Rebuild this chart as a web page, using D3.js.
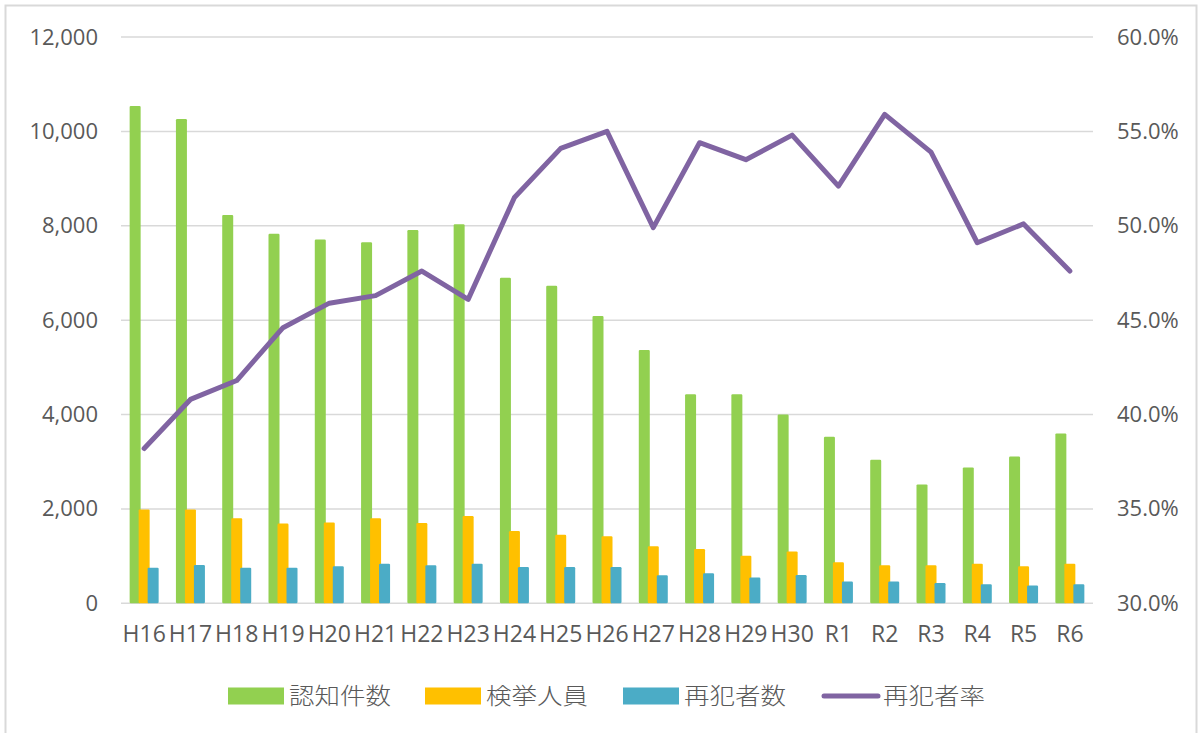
<!DOCTYPE html>
<html><head><meta charset="utf-8">
<script src="https://cdn.jsdelivr.net/npm/d3@7"></script>
<style>
html,body{margin:0;padding:0;background:#fff;}
svg{display:block;}
</style></head>
<body>
<svg id="chart" width="1203" height="733"></svg>
<script>
const categories = ["H16","H17","H18","H19","H20","H21","H22","H23","H24","H25","H26","H27","H28","H29","H30","R1","R2","R3","R4","R5","R6"];
const ninchi = [10540,10260,8230,7830,7710,7650,7910,8030,6900,6730,6090,5370,4430,4430,4000,3530,3040,2520,2880,3110,3600];
const kenkyo = [1990,1990,1800,1690,1710,1800,1700,1850,1530,1450,1420,1210,1150,1010,1100,870,805,805,840,785,840];
const saihan = [755,810,755,755,785,840,805,840,770,770,770,595,635,545,600,460,460,430,405,375,405];
const rate = [38.2,40.8,41.8,44.6,45.9,46.3,47.6,46.1,51.5,54.1,55.0,49.9,54.4,53.5,54.8,52.1,55.9,53.9,49.1,50.1,47.6];
const leftTicks = [0,2000,4000,6000,8000,10000,12000];
const rightTicks = [30,35,40,45,50,55,60];
const seriesNames = ["認知件数","検挙人員","再犯者数","再犯者率"];
const colors = ["#92D050","#FFC000","#4BACC6","#8064A2"];

const svg = d3.select("#chart");
const textColor = "#595959";
const gridColor = "#d9d9d9";

// outer frame
svg.append("rect").attr("x",5.5).attr("y",5.5).attr("width",1191).attr("height",740)
  .attr("fill","none").attr("stroke","#d9d9d9").attr("stroke-width",2);

const x = d3.scaleBand().domain(categories).range([121,1093]).padding(0);
const yL = d3.scaleLinear().domain([0,12000]).range([603.3,37]);
const yR = d3.scaleLinear().domain([30,60]).range([603.3,37]);

// gridlines
svg.append("g").selectAll("line").data(leftTicks).join("line")
  .attr("x1",121).attr("x2",1093)
  .attr("y1",d=>yL(d)).attr("y2",d=>yL(d))
  .attr("stroke",gridColor).attr("stroke-width",1.5);

// left axis
const axL = d3.axisLeft(yL).tickValues(leftTicks).tickFormat(d3.format(",")).tickSize(0).tickPadding(0);
const gL = svg.append("g").attr("transform","translate(98,0)").call(axL);
gL.select(".domain").remove();
gL.selectAll("text").attr("fill",textColor).attr("font-size","22px").attr("font-family","'Open Sans',sans-serif");

// right axis
const axR = d3.axisRight(yR).tickValues(rightTicks).tickFormat(d=>d.toFixed(1)+"%").tickSize(0).tickPadding(0);
const gR = svg.append("g").attr("transform","translate(1117,0)").call(axR);
gR.select(".domain").remove();
gR.selectAll("text").attr("fill",textColor).attr("font-size","22px").attr("font-family","'Open Sans',sans-serif");

// x axis
const axX = d3.axisBottom(x).tickSize(0).tickPadding(0);
const gX = svg.append("g").attr("transform","translate(0,626)").call(axX);
gX.select(".domain").remove();
gX.selectAll("text").attr("fill",textColor).attr("font-size","23px").attr("font-family","'Open Sans',sans-serif");

// bars
const barW = 11;
const offsets = [-14.5,-5.5,3.5];
const barSeries = [ninchi,kenkyo,saihan];
barSeries.forEach((vals,si)=>{
  svg.append("g").selectAll("rect").data(vals).join("rect")
    .attr("x",(d,i)=>x(categories[i])+x.bandwidth()/2+offsets[si])
    .attr("y",d=>yL(d))
    .attr("width",barW)
    .attr("height",d=>yL(0)-yL(d))
    .attr("rx",1.2)
    .attr("fill",colors[si]);
});

// line
const line = d3.line()
  .x((d,i)=>x(categories[i])+x.bandwidth()/2)
  .y(d=>yR(d));
svg.append("path").datum(rate).attr("d",line)
  .attr("fill","none").attr("stroke",colors[3]).attr("stroke-width",5)
  .attr("stroke-linejoin","round").attr("stroke-linecap","round");

// legend
const legX = [228,425,623,822];
const legY = 696;
const lg = svg.append("g");
seriesNames.forEach((name,i)=>{
  if(i<3){
    lg.append("rect").attr("x",legX[i]).attr("y",legY-8.5).attr("width",56).attr("height",17)
      .attr("fill",colors[i]);
  } else {
    lg.append("line").attr("x1",legX[i]+2).attr("x2",legX[i]+56).attr("y1",legY).attr("y2",legY)
      .attr("stroke",colors[i]).attr("stroke-width",5).attr("stroke-linecap","round");
  }
  lg.append("text").attr("x",legX[i]+61).attr("y",legY).attr("dy","0.36em")
    .attr("font-family","'Noto Sans CJK JP',sans-serif").attr("font-size","23px").attr("font-weight",300)
    .attr("fill",textColor)
    .attr("textLength",102).attr("lengthAdjust","spacingAndGlyphs")
    .text(name);
});
</script>
</body></html>
